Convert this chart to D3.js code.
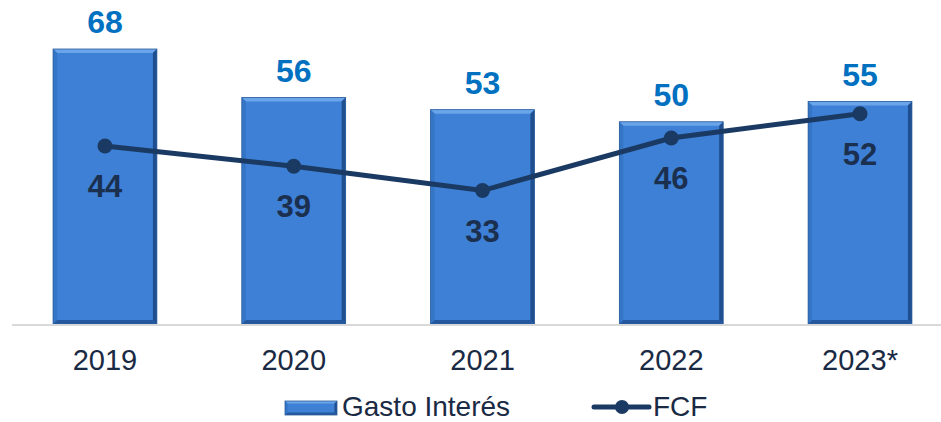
<!DOCTYPE html>
<html>
<head>
<meta charset="utf-8">
<script src="https://cdn.jsdelivr.net/npm/d3@7"></script>
<style>
  body { margin: 0; background: #fff; }
  svg { font-family: "Liberation Sans", Arial, sans-serif; }
</style>
</head>
<body>
<div id="chart"></div>
<script>
// data
var years = ["2019", "2020", "2021", "2022", "2023*"];
var gastoInteres = [68, 56, 53, 50, 55];
var fcf = [44, 39, 33, 46, 52];

var width = 941, height = 422;
var baseY = 324;

var svg = d3.select("#chart").append("svg")
  .attr("width", width)
  .attr("height", height);

var x = d3.scaleBand().domain(years).range([10.6, 954.4]).paddingInner(0.45).paddingOuter(0.225);
var y = d3.scaleLinear().domain([0, 68]).range([baseY, baseY - 275]);

// axis
var xAxis = d3.axisBottom(x).tickSize(0).tickSizeOuter(0);
var gx = svg.append("g")
  .attr("transform", "translate(0," + baseY + ")")
  .call(xAxis);
gx.select(".domain").remove();
gx.selectAll("text")
  .attr("dy", 0)
  .attr("y", 46)
  .style("font-size", "29px")
  .style("font-family", "Liberation Sans, Arial, sans-serif")
  .style("fill", "#1a2a44");

// bevelled bar helper
function bevelBar(g, x0, y0, w, h, b) {
  g.append("rect").attr("x", x0).attr("y", y0).attr("width", w).attr("height", h).attr("fill", "#3d80d6");
  // top
  g.append("polygon").attr("points", [[x0, y0], [x0 + w, y0], [x0 + w - b, y0 + b], [x0 + b, y0 + b]].join(" "))
    .attr("fill", "#6aa5ea");
  // left
  g.append("polygon").attr("points", [[x0, y0], [x0 + b, y0 + b], [x0 + b, y0 + h - b], [x0, y0 + h]].join(" "))
    .attr("fill", "#3575c6");
  // right
  g.append("polygon").attr("points", [[x0 + w, y0], [x0 + w, y0 + h], [x0 + w - b, y0 + h - b], [x0 + w - b, y0 + b]].join(" "))
    .attr("fill", "#1f4f8f");
  // bottom
  g.append("polygon").attr("points", [[x0, y0 + h], [x0 + w, y0 + h], [x0 + w - b, y0 + h - b], [x0 + b, y0 + h - b]].join(" "))
    .attr("fill", "#23589e");
  g.append("rect").attr("x", x0).attr("y", y0).attr("width", w).attr("height", h)
    .attr("fill", "none").attr("stroke", "#2b5c9c").attr("stroke-width", 0.8);
}

var bars = svg.append("g");
years.forEach(function(d, i) {
  var g = bars.append("g");
  bevelBar(g, x(d), y(gastoInteres[i]), x.bandwidth(), y(0) - y(gastoInteres[i]), 4);
});

// baseline
svg.append("line")
  .attr("x1", 12).attr("x2", 941)
  .attr("y1", baseY + 1).attr("y2", baseY + 1)
  .attr("stroke", "#d9d9d9").attr("stroke-width", 2);

// bar labels
svg.selectAll(".barLabel")
  .data(gastoInteres)
  .enter().append("text")
  .attr("x", function(d, i) { return x(years[i]) + x.bandwidth() / 2; })
  .attr("y", function(d) { return y(d) - 16; })
  .attr("text-anchor", "middle")
  .style("font-size", "32px")
  .style("font-weight", "bold")
  .style("fill", "#0070c0")
  .text(function(d) { return d; });

// FCF line
var cx = function(d, i) { return x(years[i]) + x.bandwidth() / 2; };
var line = d3.line().x(cx).y(function(d) { return y(d); });
svg.append("path")
  .datum(fcf)
  .attr("d", line)
  .attr("fill", "none")
  .attr("stroke", "#1b3a63")
  .attr("stroke-width", 5);

svg.selectAll(".dot")
  .data(fcf)
  .enter().append("circle")
  .attr("cx", cx)
  .attr("cy", function(d) { return y(d); })
  .attr("r", 7.5)
  .attr("fill", "#1b3a63");

svg.selectAll(".lineLabel")
  .data(fcf)
  .enter().append("text")
  .attr("x", cx)
  .attr("y", function(d) { return y(d) + 51; })
  .attr("text-anchor", "middle")
  .style("font-size", "31px")
  .style("font-weight", "bold")
  .style("fill", "#1b2f4f")
  .text(function(d) { return d; });

// legend
var leg = svg.append("g");
bevelBar(leg, 285, 401, 52, 14, 2.5);
leg.append("text").attr("x", 342).attr("y", 416)
  .style("font-size", "28px").style("fill", "#1a2a44").text("Gasto Interés");
leg.append("line").attr("x1", 594).attr("x2", 649).attr("y1", 407).attr("y2", 407)
  .attr("stroke", "#1b3a63").attr("stroke-width", 5).attr("stroke-linecap", "round");
leg.append("circle").attr("cx", 622).attr("cy", 407).attr("r", 7).attr("fill", "#1b3a63");
leg.append("text").attr("x", 653).attr("y", 416)
  .style("font-size", "28px").style("fill", "#1a2a44").text("FCF");
</script>
</body>
</html>
